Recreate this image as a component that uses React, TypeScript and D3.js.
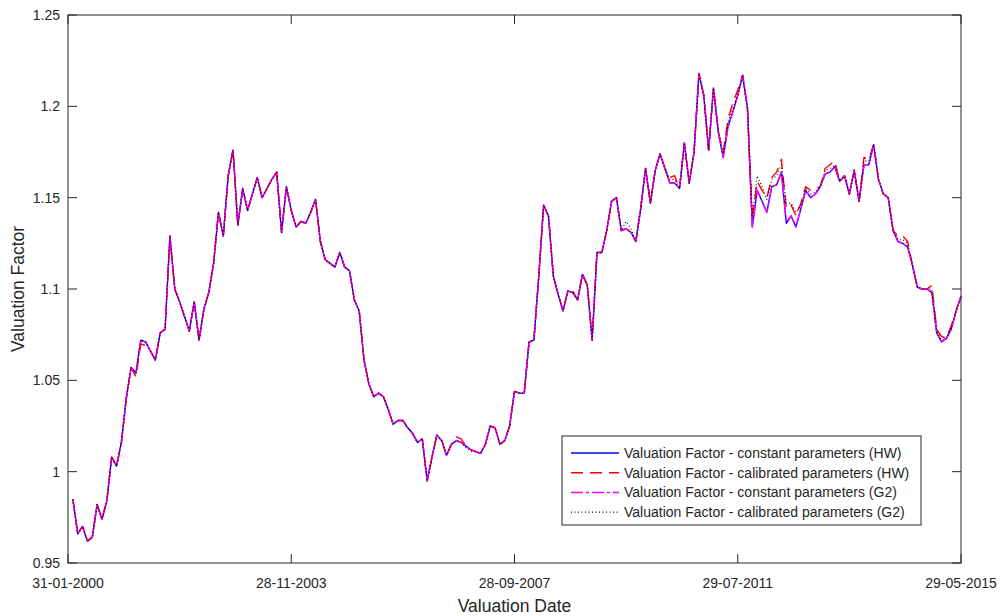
import React from 'react';
import * as d3 from 'd3';

// monthly valuation factors, Feb 2000 .. May 2015 (month index 1..184)
const hwConstant = [
  0.985, 0.966, 0.970, 0.962, 0.964, 0.982, 0.974, 0.984, 1.008, 1.003,
  1.016, 1.040, 1.057, 1.054, 1.072, 1.071, 1.066, 1.061, 1.076, 1.078,
  1.129, 1.100, 1.093, 1.085, 1.077, 1.093, 1.072, 1.089, 1.098, 1.114,
  1.142, 1.129, 1.162, 1.176, 1.135, 1.155, 1.143, 1.152, 1.161, 1.150,
  1.155, 1.160, 1.164, 1.131, 1.156, 1.143, 1.134, 1.137, 1.136, 1.142,
  1.149, 1.126, 1.116, 1.114, 1.112, 1.120, 1.112, 1.110, 1.094, 1.088,
  1.061, 1.048, 1.041, 1.043, 1.041, 1.034, 1.026, 1.028, 1.028, 1.024,
  1.021, 1.016, 1.018, 0.995, 1.008, 1.020, 1.017, 1.009, 1.015, 1.017,
  1.016, 1.014, 1.012, 1.011, 1.010, 1.015, 1.025, 1.024, 1.015, 1.017,
  1.025, 1.044, 1.043, 1.043, 1.071, 1.072, 1.107, 1.146, 1.140, 1.107,
  1.097, 1.088, 1.099, 1.098, 1.094, 1.108, 1.102, 1.072, 1.120, 1.120,
  1.132, 1.148, 1.150, 1.132, 1.133, 1.131, 1.126, 1.144, 1.166, 1.147,
  1.165, 1.174, 1.166, 1.158, 1.158, 1.155, 1.180, 1.158, 1.175, 1.218,
  1.206, 1.176, 1.210, 1.186, 1.172, 1.189, 1.197, 1.206, 1.217, 1.199,
  1.134, 1.154, 1.148, 1.142, 1.156, 1.157, 1.164, 1.136, 1.140, 1.134,
  1.144, 1.154, 1.150, 1.152, 1.156, 1.163, 1.164, 1.167, 1.159, 1.162,
  1.152, 1.165, 1.148, 1.168, 1.168, 1.179, 1.160, 1.152, 1.150, 1.132,
  1.126, 1.125, 1.123, 1.113, 1.101, 1.100, 1.100, 1.098, 1.076, 1.071,
  1.073, 1.078, 1.088, 1.096,
];

const hwCalibrated = [
  0.985, 0.966, 0.970, 0.962, 0.964, 0.982, 0.974, 0.984, 1.008, 1.003,
  1.016, 1.040, 1.057, 1.052, 1.070, 1.069, 1.066, 1.061, 1.076, 1.078,
  1.129, 1.100, 1.093, 1.085, 1.077, 1.093, 1.072, 1.089, 1.098, 1.114,
  1.142, 1.129, 1.162, 1.176, 1.135, 1.155, 1.143, 1.152, 1.161, 1.150,
  1.155, 1.160, 1.164, 1.131, 1.156, 1.143, 1.134, 1.137, 1.136, 1.142,
  1.149, 1.126, 1.116, 1.114, 1.112, 1.120, 1.112, 1.110, 1.094, 1.088,
  1.061, 1.048, 1.041, 1.043, 1.041, 1.034, 1.026, 1.028, 1.028, 1.024,
  1.021, 1.016, 1.018, 0.995, 1.008, 1.020, 1.017, 1.009, 1.015, 1.019,
  1.018, 1.014, 1.012, 1.011, 1.010, 1.015, 1.025, 1.024, 1.015, 1.017,
  1.025, 1.044, 1.043, 1.043, 1.071, 1.072, 1.107, 1.146, 1.140, 1.107,
  1.097, 1.088, 1.099, 1.099, 1.094, 1.108, 1.102, 1.072, 1.120, 1.120,
  1.132, 1.148, 1.150, 1.132, 1.133, 1.131, 1.126, 1.144, 1.166, 1.147,
  1.165, 1.174, 1.166, 1.161, 1.162, 1.155, 1.180, 1.158, 1.175, 1.218,
  1.206, 1.176, 1.210, 1.186, 1.175, 1.193, 1.202, 1.209, 1.217, 1.199,
  1.138, 1.159, 1.154, 1.150, 1.161, 1.164, 1.171, 1.144, 1.146, 1.140,
  1.147, 1.156, 1.154, 1.155, 1.156, 1.166, 1.168, 1.170, 1.159, 1.162,
  1.152, 1.165, 1.148, 1.172, 1.171, 1.179, 1.160, 1.152, 1.150, 1.132,
  1.129, 1.129, 1.126, 1.113, 1.101, 1.100, 1.100, 1.102, 1.078, 1.074,
  1.073, 1.080, 1.088, 1.096,
];

const g2Constant = [
  0.985, 0.966, 0.970, 0.962, 0.964, 0.982, 0.974, 0.984, 1.008, 1.003,
  1.016, 1.040, 1.057, 1.054, 1.072, 1.071, 1.066, 1.061, 1.076, 1.078,
  1.129, 1.100, 1.093, 1.085, 1.077, 1.093, 1.072, 1.089, 1.098, 1.114,
  1.142, 1.129, 1.162, 1.176, 1.135, 1.155, 1.143, 1.152, 1.161, 1.150,
  1.155, 1.160, 1.164, 1.131, 1.156, 1.143, 1.134, 1.137, 1.136, 1.142,
  1.149, 1.126, 1.116, 1.114, 1.112, 1.120, 1.112, 1.110, 1.094, 1.088,
  1.061, 1.048, 1.041, 1.043, 1.041, 1.034, 1.026, 1.028, 1.028, 1.024,
  1.021, 1.016, 1.018, 0.995, 1.008, 1.020, 1.017, 1.009, 1.015, 1.017,
  1.016, 1.014, 1.012, 1.011, 1.010, 1.015, 1.025, 1.024, 1.015, 1.017,
  1.025, 1.044, 1.043, 1.043, 1.071, 1.072, 1.107, 1.146, 1.140, 1.107,
  1.097, 1.088, 1.099, 1.098, 1.094, 1.108, 1.102, 1.072, 1.120, 1.120,
  1.132, 1.148, 1.150, 1.132, 1.133, 1.131, 1.126, 1.144, 1.166, 1.147,
  1.165, 1.174, 1.166, 1.158, 1.158, 1.155, 1.180, 1.158, 1.175, 1.218,
  1.206, 1.176, 1.210, 1.186, 1.172, 1.189, 1.197, 1.206, 1.217, 1.199,
  1.134, 1.154, 1.148, 1.142, 1.156, 1.157, 1.164, 1.137, 1.140, 1.134,
  1.144, 1.154, 1.150, 1.152, 1.156, 1.163, 1.164, 1.167, 1.159, 1.162,
  1.152, 1.165, 1.148, 1.168, 1.168, 1.179, 1.160, 1.152, 1.150, 1.133,
  1.126, 1.125, 1.123, 1.113, 1.101, 1.100, 1.100, 1.098, 1.076, 1.071,
  1.073, 1.078, 1.088, 1.096,
];

const g2Calibrated = [
  0.985, 0.966, 0.970, 0.962, 0.964, 0.982, 0.974, 0.984, 1.008, 1.003,
  1.016, 1.040, 1.057, 1.054, 1.072, 1.071, 1.066, 1.061, 1.076, 1.078,
  1.129, 1.100, 1.093, 1.085, 1.077, 1.093, 1.072, 1.089, 1.098, 1.114,
  1.142, 1.129, 1.162, 1.176, 1.135, 1.155, 1.143, 1.152, 1.161, 1.150,
  1.155, 1.160, 1.164, 1.131, 1.156, 1.143, 1.134, 1.137, 1.136, 1.142,
  1.149, 1.126, 1.116, 1.114, 1.112, 1.120, 1.112, 1.110, 1.094, 1.088,
  1.061, 1.048, 1.041, 1.043, 1.041, 1.034, 1.026, 1.028, 1.028, 1.024,
  1.021, 1.016, 1.018, 0.995, 1.008, 1.020, 1.017, 1.009, 1.015, 1.017,
  1.016, 1.013, 1.011, 1.011, 1.010, 1.015, 1.025, 1.024, 1.015, 1.017,
  1.025, 1.044, 1.043, 1.043, 1.071, 1.072, 1.107, 1.146, 1.140, 1.107,
  1.097, 1.088, 1.099, 1.098, 1.094, 1.108, 1.102, 1.072, 1.120, 1.120,
  1.132, 1.148, 1.150, 1.132, 1.137, 1.133, 1.126, 1.144, 1.166, 1.147,
  1.165, 1.174, 1.166, 1.160, 1.160, 1.155, 1.180, 1.158, 1.175, 1.218,
  1.206, 1.176, 1.210, 1.186, 1.174, 1.191, 1.199, 1.206, 1.217, 1.199,
  1.140, 1.162, 1.156, 1.149, 1.160, 1.162, 1.168, 1.147, 1.147, 1.142,
  1.146, 1.155, 1.152, 1.153, 1.156, 1.165, 1.166, 1.168, 1.159, 1.162,
  1.152, 1.165, 1.148, 1.170, 1.170, 1.179, 1.160, 1.152, 1.150, 1.132,
  1.127, 1.127, 1.125, 1.113, 1.101, 1.100, 1.100, 1.100, 1.077, 1.072,
  1.073, 1.079, 1.088, 1.096,
];

const dateTicks = [0, 46, 92, 138, 184];
const dateLabels = ['31-01-2000', '28-11-2003', '28-09-2007', '29-07-2011', '29-05-2015'];
const valueTicks = [0.95, 1, 1.05, 1.1, 1.15, 1.2, 1.25];

const seriesNames = [
  'Valuation Factor - constant parameters (HW)',
  'Valuation Factor - calibrated parameters (HW)',
  'Valuation Factor - constant parameters (G2)',
  'Valuation Factor - calibrated parameters (G2)',
];

const W = 1002;
const H = 616;
const margin = { top: 15, left: 68, bottom: 53, right: 41 };
const font = 'Arial, "Liberation Sans", Helvetica, sans-serif';
const axisColor = '#262626';

export default function App() {
  const iw = W - margin.left - margin.right;
  const ih = H - margin.top - margin.bottom;

  const x = d3.scaleLinear().domain([0, 184]).range([0, iw]);
  const y = d3.scaleLinear().domain([0.95, 1.25]).range([ih, 0]);

  const line = d3.line<number>()
    .x((d, i) => x(i + 1))
    .y(d => y(d));

  const styles = [
    { data: hwConstant, color: '#0000ff', dash: undefined, width: 1.4 },
    { data: hwCalibrated, color: '#ff0000', dash: '12,7', width: 1.4 },
    { data: g2Constant, color: '#ff00ff', dash: '12,3,3,3', width: 1.5 },
    { data: g2Calibrated, color: '#000000', dash: '1,2.5', width: 1.1 },
  ];

  const tickLen = 9;
  const lg = { x: 562, y: 436, w: 359, h: 89, row: 19.7 };

  return (
    <svg width={W} height={H} style={{ position: 'absolute', left: 0, top: 0, background: '#fff' }}>
      <g transform={`translate(${margin.left},${margin.top})`} fontFamily={font}>
        {styles.map((s, k) => (
          <path key={k} d={line(s.data) || ''} fill="none" stroke={s.color}
            strokeWidth={s.width} strokeDasharray={s.dash} strokeLinejoin="round" />
        ))}

        <rect x={0} y={0} width={iw} height={ih} fill="none" stroke={axisColor} strokeWidth={1} />

        {valueTicks.map(v => (
          <g key={v}>
            <line x1={0} x2={tickLen} y1={y(v)} y2={y(v)} stroke={axisColor} />
            <line x1={iw} x2={iw - tickLen} y1={y(v)} y2={y(v)} stroke={axisColor} />
            <text x={-8} y={y(v)} dy="0.35em" textAnchor="end" fontSize={14} fill={axisColor}>
              {String(v)}
            </text>
          </g>
        ))}

        {dateTicks.map((t, k) => (
          <g key={t}>
            <line x1={x(t)} x2={x(t)} y1={ih} y2={ih - tickLen} stroke={axisColor} />
            <line x1={x(t)} x2={x(t)} y1={0} y2={tickLen} stroke={axisColor} />
            <text x={x(t)} y={ih + 25} textAnchor="middle" fontSize={14} fill={axisColor}>
              {dateLabels[k]}
            </text>
          </g>
        ))}

        <text x={iw / 2} y={ih + 49} textAnchor="middle" fontSize={17.5} fill={axisColor}>
          Valuation Date
        </text>
        <text transform={`translate(${-44},${ih / 2}) rotate(-90)`} textAnchor="middle"
          fontSize={17.5} fill={axisColor}>
          Valuation Factor
        </text>
      </g>

      <g fontFamily={font}>
        <rect x={lg.x} y={lg.y} width={lg.w} height={lg.h} fill="#fff" stroke={axisColor} strokeWidth={1} />
        {styles.map((s, k) => {
          const cy = lg.y + 17 + k * lg.row;
          return (
            <g key={k}>
              <line x1={lg.x + 9} x2={lg.x + 57} y1={cy} y2={cy} stroke={s.color}
                strokeWidth={s.width} strokeDasharray={s.dash} />
              <text x={lg.x + 62} y={cy} dy="0.35em" fontSize={14} fill={axisColor}>
                {seriesNames[k]}
              </text>
            </g>
          );
        })}
      </g>
    </svg>
  );
}
